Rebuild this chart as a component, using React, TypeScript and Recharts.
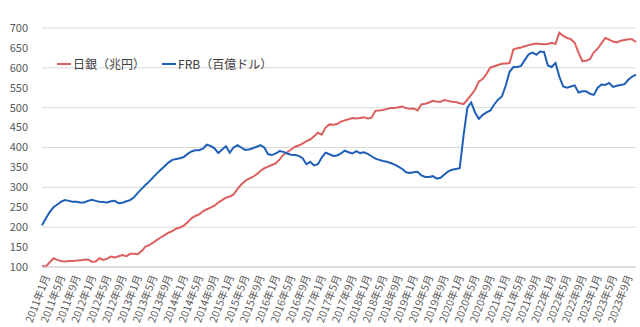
import { CartesianGrid, Legend, Line, LineChart, XAxis, YAxis } from "recharts";

const YEARS = [2011, 2012, 2013, 2014, 2015, 2016, 2017, 2018, 2019, 2020, 2021, 2022, 2023];
const MONTHS = [1, 2, 3, 4, 5, 6, 7, 8, 9, 10, 11, 12];

// 日銀 マネタリーベース（兆円）
const BOJ = [
  103, 101, 112, 122, 118, 115, 114, 115, 115, 116, 117, 118,
  119, 113, 114, 122, 118, 121, 126, 124, 127, 130, 127, 133,
  133, 132, 140, 151, 155, 161, 168, 174, 180, 186, 190, 196,
  199, 204, 212, 222, 228, 232, 240, 245, 249, 254, 262, 268,
  274, 277, 282, 296, 307, 316, 322, 326, 333, 341, 348, 352,
  356, 360, 370, 382, 388, 395, 402, 405, 410, 416, 420, 428,
  437, 432, 450, 458, 457, 459, 465, 468, 471, 474, 473, 474,
  476, 473, 475, 492, 493, 494, 497, 499, 499, 501, 503, 499,
  497, 498, 493, 508, 510, 513, 517, 515, 515, 519, 517, 515,
  514, 511, 509, 520, 532, 545, 566, 572, 585, 601, 604, 607,
  610, 611, 612, 646, 649, 651, 654, 657, 659, 661, 660, 659,
  660, 663, 660, 688, 680, 675, 672, 663, 638, 617, 618, 622,
  639, 648, 662, 675, 671, 666, 664, 668, 670, 672, 672, 665,
];

// FRB（百億ドル）
const FRB = [
  205, 222, 238, 250, 257, 264, 268, 266, 264, 264, 262, 262,
  266, 269, 266, 264, 263, 262, 265, 266, 260, 261, 265, 268,
  275, 286, 296, 306, 315, 325, 335, 344, 353, 362, 369, 371,
  373, 376, 384, 390, 393, 393, 397, 407, 404, 398, 386, 395,
  403, 387, 400, 406, 400, 394, 395, 398, 402, 406, 400, 383,
  381, 385, 391, 389, 385, 382, 381, 379, 373, 358, 364, 355,
  358, 375, 387, 383, 379, 380, 385, 392, 388, 385, 391, 386,
  388, 384, 378, 372, 369, 366, 364, 361, 357, 352, 346, 338,
  336, 338, 339, 330, 326, 326, 328, 322, 324, 332, 340, 344,
  346, 348, 430, 500, 513, 488, 472, 482, 488, 493, 508, 520,
  528, 555, 590, 602, 602, 605, 620, 634, 638, 633, 641, 640,
  606, 602, 612, 578, 553, 550, 553, 556, 538, 541, 541, 535,
  532, 550, 558, 557, 562, 552, 555, 557, 559, 570, 578, 583,
];

const Y_TICKS = [100, 150, 200, 250, 300, 350, 400, 450, 500, 550, 600, 650, 700];

const LABELS = YEARS.flatMap((y) => MONTHS.map((m) => `${y}年${m}月`));

const data = LABELS.map((month, i) => ({ month, boj: BOJ[i], frb: FRB[i] }));

const RED = "#dc5f5f";
const BLUE = "#1f5fb8";
const FONT = "'Noto Sans CJK JP', 'Noto Sans', sans-serif";

function MonthTick({ x, y, payload }: { x?: number; y?: number; payload?: { value: string } }) {
  const ax = (x ?? 0) + 4;
  const ay = (y ?? 0) + 6;
  return (
    <text
      x={ax}
      y={ay}
      transform={`rotate(-69, ${ax}, ${ay})`}
      textAnchor="end"
      dominantBaseline="central"
      fontSize={10.5}
      fill="#595959"
      fontFamily={FONT}
    >
      {payload?.value}
    </text>
  );
}

function LegendBox() {
  const items = [
    { label: "日銀（兆円）", color: RED },
    { label: "FRB（百億ドル）", color: BLUE },
  ];
  return (
    <div style={{ display: "flex", gap: 17, fontFamily: FONT, fontSize: 12, color: "#404040" }}>
      {items.map((it) => (
        <div key={it.label} style={{ display: "flex", alignItems: "center" }}>
          <span style={{ display: "inline-block", width: 14, height: 2, background: it.color, marginRight: 2 }} />
          <span>{it.label}</span>
        </div>
      ))}
    </div>
  );
}

export default function App() {
  return (
    <div style={{ position: "fixed", left: 0, top: 0, width: 640, height: 327, background: "#fff" }}>
      <LineChart width={640} height={327} data={data} margin={{ top: 11, right: 4, bottom: 0, left: 8 }}>
        <CartesianGrid vertical={false} stroke="#d9d9d9" />
        <XAxis
          dataKey="month"
          interval={3}
          tick={<MonthTick />}
          tickLine={false}
          tickSize={0}
          axisLine={{ stroke: "#d0d0d0" }}
          height={60}
        />
        <YAxis
          domain={[100, 700]}
          ticks={Y_TICKS}
          width={34}
          axisLine={false}
          tickLine={false}
          tickSize={0}
          tickMargin={14}
          tick={{ fill: "#595959", fontSize: 11, fontFamily: FONT }}
        />
        <Legend
          verticalAlign="top"
          align="left"
          content={<LegendBox />}
          wrapperStyle={{ position: "absolute", top: 55, left: 57, width: "auto" }}
        />
        <Line
          type="linear"
          dataKey="boj"
          name="日銀（兆円）"
          stroke={RED}
          strokeWidth={2}
          dot={false}
          isAnimationActive={false}
        />
        <Line
          type="linear"
          dataKey="frb"
          name="FRB（百億ドル）"
          stroke={BLUE}
          strokeWidth={2}
          dot={false}
          isAnimationActive={false}
        />
      </LineChart>
    </div>
  );
}
